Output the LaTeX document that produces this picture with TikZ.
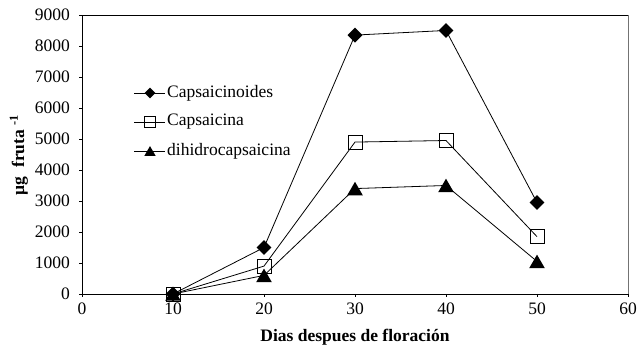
\documentclass[tikz,border=0pt]{standalone}
\usepackage{fontspec}
\setmainfont{Liberation Serif}
\usetikzlibrary{shapes.geometric}
\tikzset{
	mkdiam/.style={diamond,fill=black,inner sep=0pt,minimum width=#1,minimum height=#1},
	mksq/.style={rectangle,draw=black,line width=0.8pt,inner sep=0pt,minimum size=#1},
	mktri/.style={regular polygon,regular polygon sides=3,fill=black,inner sep=0pt,minimum size=#1},
	dataline/.style={line width=0.8pt},
}

\begin{document}
\begin{tikzpicture}[x=1pt,y=1pt,font=\fontsize{17.5}{21}\selectfont]
				%%%%% START %%%%%
				\useasboundingbox (0,0) rectangle (638,356);
				
				\begin{scope}[shift={(82pt,62pt)},x=9.1pt,y=0.031pt]
				
				\draw[line width=0.8pt] (0,9000) -- (60,9000);
				\draw[line width=1pt,black!55] (60,0) -- (60,9000);
				\draw[line width=0.8pt] (0,0) -- (0,9000);
				\draw[line width=0.8pt] (0,0) -- (60,0);
				
				\foreach \y in {0,1000,...,9000} {
					\draw[line width=0.8pt] (0,\y) -- ++(-3pt,0);
					\node[anchor=east,inner sep=0pt] (ylab\y) at ([xshift=-12pt]0,\y) {\y};
				}
				\foreach \x in {0,10,...,60} {
					\draw[line width=0.8pt] (\x,0) -- ++(0,-3pt);
					\node[inner sep=0pt] (xlab\x) at ([yshift=-15pt]\x,0) {\x};
				}
				
				\coordinate (c1) at (10,0);
				\coordinate (c2) at (20,1500);
				\coordinate (c3) at (30,8350);
				\coordinate (c4) at (40,8500);
				\coordinate (c5) at (50,2950);
				
				\coordinate (s1) at (10,0);
				\coordinate (s2) at (20,900);
				\coordinate (s3) at (30,4900);
				\coordinate (s4) at (40,4950);
				\coordinate (s5) at (50,1850);
				
				\coordinate (d1) at (10,0);
				\coordinate (d2) at (20,600);
				\coordinate (d3) at (30,3400);
				\coordinate (d4) at (40,3500);
				\coordinate (d5) at (50,1050);
				
				\draw[dataline] (c1) -- (c2) -- (c3) -- (c4) -- (c5);
				\draw[dataline] (s1) -- (s2) -- (s3) -- (s4) -- (s5);
				\draw[dataline] (d1) -- (d2) -- (d3) -- (d4) -- (d5);
				
				\foreach \i in {1,...,5} {
					\node[mkdiam=15pt] (mc\i) at (c\i) {};
					\node[mksq=14pt] (ms\i) at (s\i) {};
					\node[mktri=18pt,yshift=-2.2pt] (md\i) at (d\i) {};
				}
				\end{scope}
				
				% legend
				\coordinate (la) at (134,263);
				\coordinate (lb) at (165,263);
				\draw[dataline] (la) -- (lb);
				\node[mkdiam=11pt] (lgc) at (150,263) {};
				\node[anchor=west,inner sep=0pt] (lgct) at (167,263) {Capsaicinoides};
				
				\coordinate (lc) at (134,234);
				\coordinate (ld) at (165,234);
				\draw[dataline] (lc) -- (ld);
				\node[mksq=10.5pt] (lgs) at (150,234) {};
				\node[anchor=west,inner sep=0pt] (lgst) at (167,234) {Capsaicina};
				
				\coordinate (le) at (134,205);
				\coordinate (lf) at (165,205);
				\draw[dataline] (le) -- (lf);
				\node[mktri=13pt,yshift=-1.6pt] (lgd) at (150,205) {};
				\node[anchor=west,inner sep=0pt] (lgdt) at (167,205) {dihidrocapsaicina};
				
				% axis titles
				\node[font=\fontsize{17.5}{21}\selectfont\bfseries] (xtitle) at (355,19) {Dias despues de floración};
				\node[font=\fontsize{17.5}{21}\selectfont\bfseries,rotate=90] (ytitle) at (19,201) {µg\ \ fruta \textsuperscript{-1}};
				%%%%% END %%%%%
			\end{tikzpicture}
\end{document}
